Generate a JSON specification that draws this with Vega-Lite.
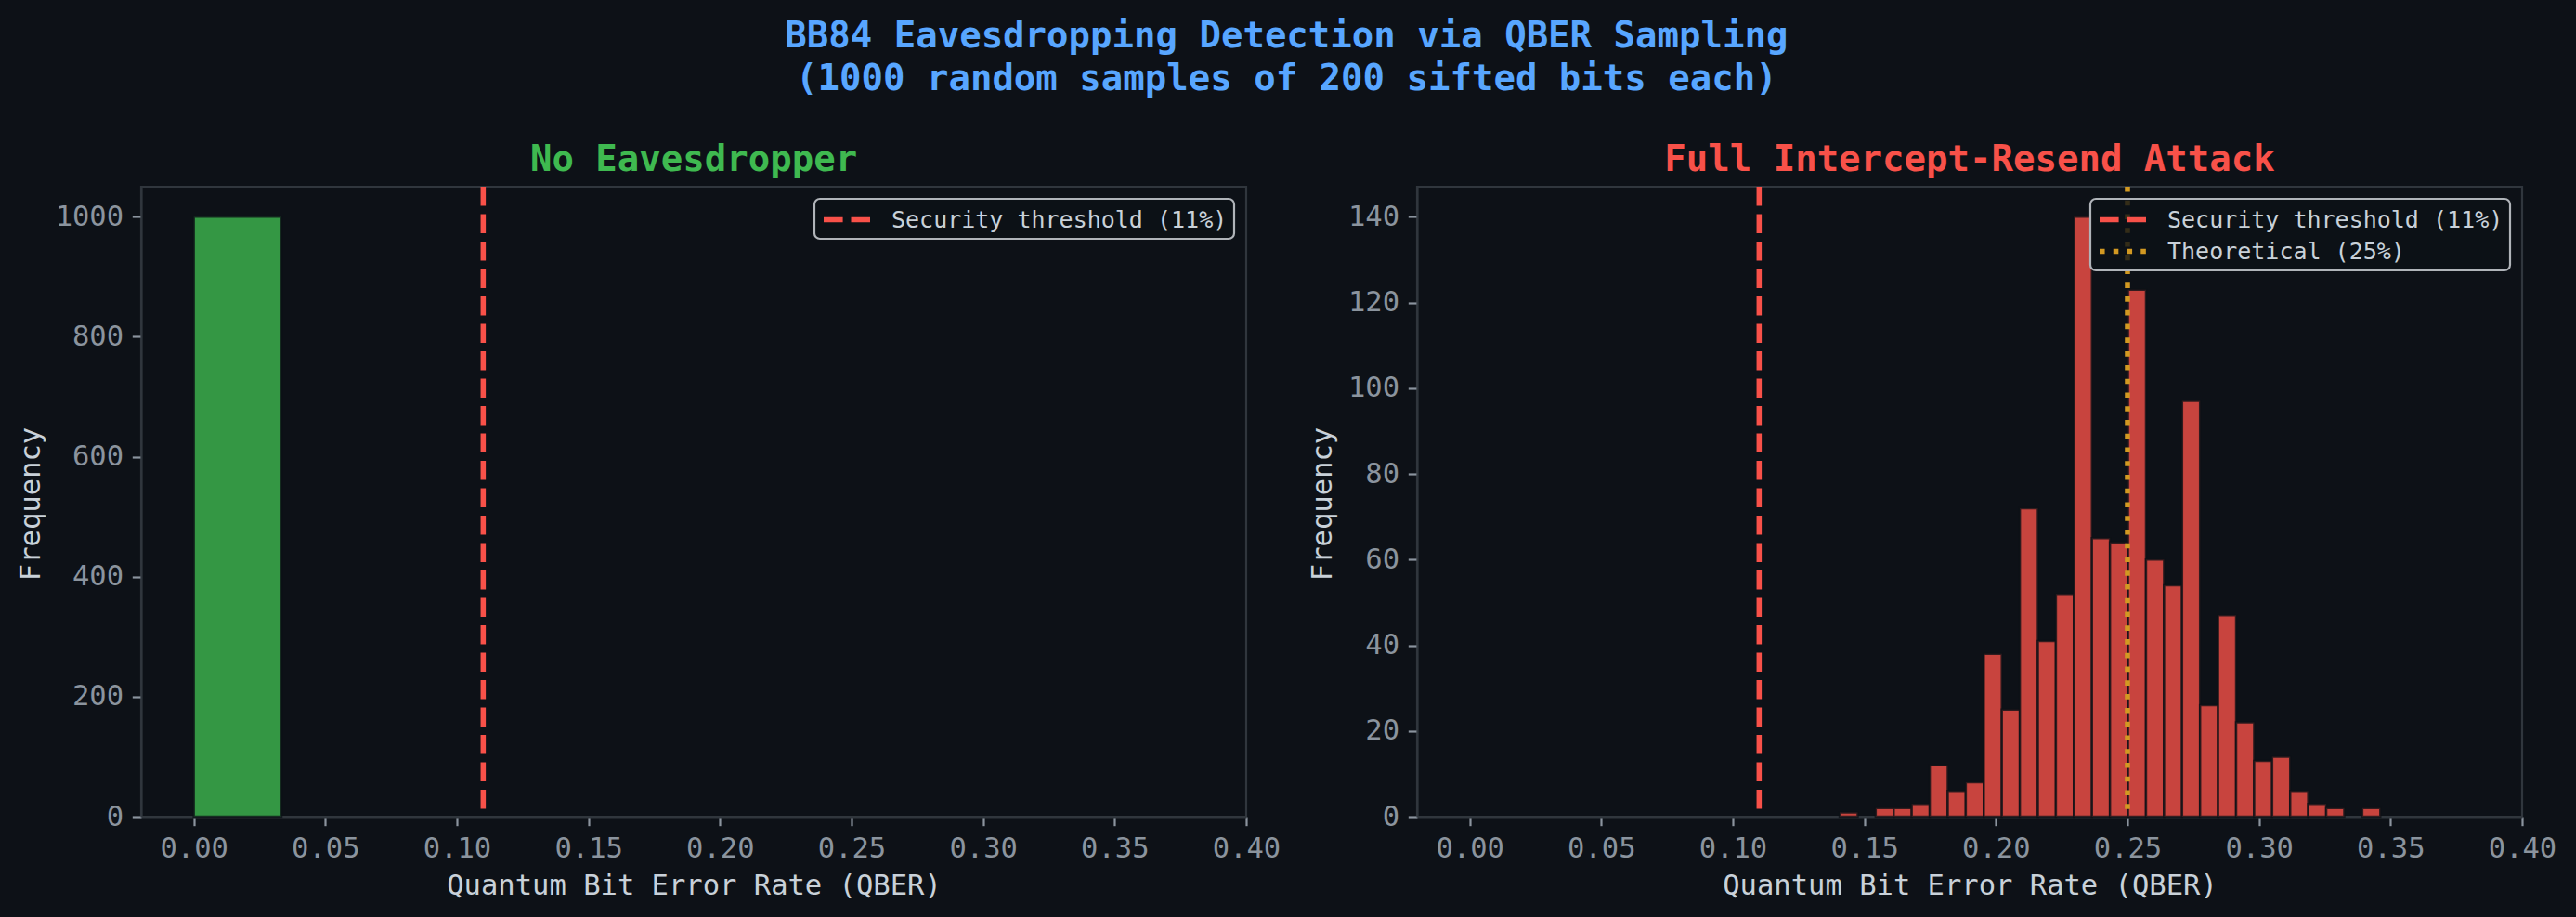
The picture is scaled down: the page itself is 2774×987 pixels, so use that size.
{
  "$schema": "https://vega.github.io/schema/vega-lite/v6.json",
  "background": "#0d1117",
  "padding": {"left": 16, "top": 19, "right": 30, "bottom": 30},
  "autosize": {"type": "pad"},
  "title": {
    "text": ["BB84 Eavesdropping Detection via QBER Sampling", "(1000 random samples of 200 sifted bits each)"],
    "font": "DejaVu Sans Mono",
    "fontSize": 39,
    "fontWeight": "bold",
    "lineHeight": 46,
    "color": "#58a6ff",
    "anchor": "middle",
    "offset": 47
  },
  "datasets": {
    "noeve": [
      {"bin_start": 0.0, "bin_end": 0.0333, "count": 1000}
    ],
    "attack": [
      {"bin_start": 0.1406, "bin_end": 0.14745, "count": 1},
      {"bin_start": 0.1543, "bin_end": 0.16115, "count": 2},
      {"bin_start": 0.16115, "bin_end": 0.168, "count": 2},
      {"bin_start": 0.168, "bin_end": 0.17485, "count": 3},
      {"bin_start": 0.17485, "bin_end": 0.1817, "count": 12},
      {"bin_start": 0.1817, "bin_end": 0.18855, "count": 6},
      {"bin_start": 0.18855, "bin_end": 0.1954, "count": 8},
      {"bin_start": 0.1954, "bin_end": 0.20225, "count": 38},
      {"bin_start": 0.20225, "bin_end": 0.2091, "count": 25},
      {"bin_start": 0.2091, "bin_end": 0.21595, "count": 72},
      {"bin_start": 0.21595, "bin_end": 0.2228, "count": 41},
      {"bin_start": 0.2228, "bin_end": 0.22965, "count": 52},
      {"bin_start": 0.22965, "bin_end": 0.2365, "count": 140},
      {"bin_start": 0.2365, "bin_end": 0.24335, "count": 65},
      {"bin_start": 0.24335, "bin_end": 0.2502, "count": 64},
      {"bin_start": 0.2502, "bin_end": 0.25705, "count": 123},
      {"bin_start": 0.25705, "bin_end": 0.2639, "count": 60},
      {"bin_start": 0.2639, "bin_end": 0.27075, "count": 54},
      {"bin_start": 0.27075, "bin_end": 0.2776, "count": 97},
      {"bin_start": 0.2776, "bin_end": 0.28445, "count": 26},
      {"bin_start": 0.28445, "bin_end": 0.2913, "count": 47},
      {"bin_start": 0.2913, "bin_end": 0.29815, "count": 22},
      {"bin_start": 0.29815, "bin_end": 0.305, "count": 13},
      {"bin_start": 0.305, "bin_end": 0.31185, "count": 14},
      {"bin_start": 0.31185, "bin_end": 0.3187, "count": 6},
      {"bin_start": 0.3187, "bin_end": 0.32555, "count": 3},
      {"bin_start": 0.32555, "bin_end": 0.3324, "count": 2},
      {"bin_start": 0.33925, "bin_end": 0.3461, "count": 2}
    ],
    "lines_noeve": [
      {"label": "Security threshold (11%)", "value": 0.11}
    ],
    "lines_attack": [
      {"label": "Security threshold (11%)", "value": 0.11},
      {"label": "Theoretical (25%)", "value": 0.25}
    ]
  },
  "spacing": 184,
  "bounds": "flush",
  "resolve": {
    "scale": {"x": "independent", "y": "independent", "color": "independent", "strokeDash": "independent"},
    "legend": {"color": "independent", "strokeDash": "independent"}
  },
  "hconcat": [
    {
      "width": 1190,
      "height": 678,
      "title": {"text": "No Eavesdropper", "color": "#3fb950", "font": "DejaVu Sans Mono", "fontSize": 39, "fontWeight": "bold", "offset": -24.5, "baseline": "alphabetic", "anchor": "middle", "frame": "group"},
      "layer": [
        {
          "data": {"name": "noeve"},
          "mark": {"type": "rect", "fill": "#3fb950", "fillOpacity": 0.8, "stroke": "#0d1117", "strokeWidth": 2.5, "strokeOpacity": 0.8},
          "encoding": {
            "x": {"field": "bin_start", "type": "quantitative", "scale": {"domain": [-0.02, 0.40], "nice": false, "zero": false},
                  "axis": {"title": "Quantum Bit Error Rate (QBER)", "values": [0, 0.05, 0.1, 0.15, 0.2, 0.25, 0.3, 0.35, 0.4], "format": ".2f", "titleX": 595, "titleY": 83.5, "titleBaseline": "alphabetic"}},
            "x2": {"field": "bin_end"},
            "y": {"field": "count", "type": "quantitative", "scale": {"domain": [0, 1050], "nice": false},
                  "axis": {"title": "Frequency", "values": [0, 200, 400, 600, 800, 1000], "format": "d", "titleX": -110, "titleY": 341, "titleBaseline": "alphabetic"}},
            "y2": {"datum": 0}
          }
        },
        {
          "data": {"name": "lines_noeve"},
          "mark": {"type": "rule", "strokeWidth": 5.56},
          "encoding": {
            "x": {"field": "value", "type": "quantitative"},
            "color": {"field": "label", "type": "nominal", "scale": {"domain": ["Security threshold (11%)"], "range": ["#f85149"]}, "legend": {"title": null}},
            "strokeDash": {"field": "label", "type": "nominal", "scale": {"domain": ["Security threshold (11%)"], "range": [[20.6, 8.9]]}, "legend": {"title": null}}
          }
        }
      ]
    },
    {
      "width": 1190,
      "height": 678,
      "title": {"text": "Full Intercept-Resend Attack", "color": "#f85149", "font": "DejaVu Sans Mono", "fontSize": 39, "fontWeight": "bold", "offset": -24.5, "baseline": "alphabetic", "anchor": "middle", "frame": "group"},
      "layer": [
        {
          "data": {"name": "attack"},
          "mark": {"type": "rect", "fill": "#f85149", "fillOpacity": 0.8, "stroke": "#0d1117", "strokeWidth": 2.5, "strokeOpacity": 0.8},
          "encoding": {
            "x": {"field": "bin_start", "type": "quantitative", "scale": {"domain": [-0.02, 0.40], "nice": false, "zero": false},
                  "axis": {"title": "Quantum Bit Error Rate (QBER)", "values": [0, 0.05, 0.1, 0.15, 0.2, 0.25, 0.3, 0.35, 0.4], "format": ".2f", "titleX": 595, "titleY": 83.5, "titleBaseline": "alphabetic"}},
            "x2": {"field": "bin_end"},
            "y": {"field": "count", "type": "quantitative", "scale": {"domain": [0, 147], "nice": false},
                  "axis": {"title": "Frequency", "values": [0, 20, 40, 60, 80, 100, 120, 140], "format": "d", "titleX": -92.7, "titleY": 341, "titleBaseline": "alphabetic"}},
            "y2": {"datum": 0}
          }
        },
        {
          "data": {"name": "lines_attack"},
          "mark": {"type": "rule", "strokeWidth": 5.56},
          "encoding": {
            "x": {"field": "value", "type": "quantitative"},
            "color": {"field": "label", "type": "nominal", "scale": {"domain": ["Security threshold (11%)", "Theoretical (25%)"], "range": ["#f85149", "#d29922"]}, "legend": {"title": null}},
            "strokeDash": {"field": "label", "type": "nominal", "scale": {"domain": ["Security threshold (11%)", "Theoretical (25%)"], "range": [[20.6, 8.9], [5.56, 9.2]]}, "legend": {"title": null}}
          }
        }
      ]
    }
  ],
  "config": {
    "view": {"stroke": "#30363d", "strokeWidth": 2.2},
    "axis": {
      "grid": false,
      "domainColor": "#30363d",
      "domainWidth": 2.2,
      "tickColor": "#8b949e",
      "tickWidth": 2.2,
      "tickSize": 9.7,
      "labelPadding": 9.7,
      "labelFont": "DejaVu Sans Mono",
      "labelFontSize": 30.5,
      "labelColor": "#8b949e",
      "titleFont": "DejaVu Sans Mono",
      "titleFontSize": 30.5,
      "titleFontWeight": "normal",
      "titleColor": "#c9d1d9",
      "labelFlush": false,
      "labelOverlap": false
    },
    "legend": {
      "orient": "top-right",
      "offset": 13,
      "symbolType": "M-1,0H3",
      "symbolSize": 625,
      "symbolStrokeWidth": 5.56,
      "labelFont": "DejaVu Sans Mono",
      "labelFontSize": 25,
      "labelColor": "#c9d1d9",
      "labelOffset": 45,
      "rowPadding": 5,
      "padding": 7,
      "strokeColor": "#b0b4b9",
      "strokeWidth": 2.2,
      "cornerRadius": 6,
      "fillColor": "rgba(13,17,23,0.8)",
      "labelLimit": 600
    }
  }
}
